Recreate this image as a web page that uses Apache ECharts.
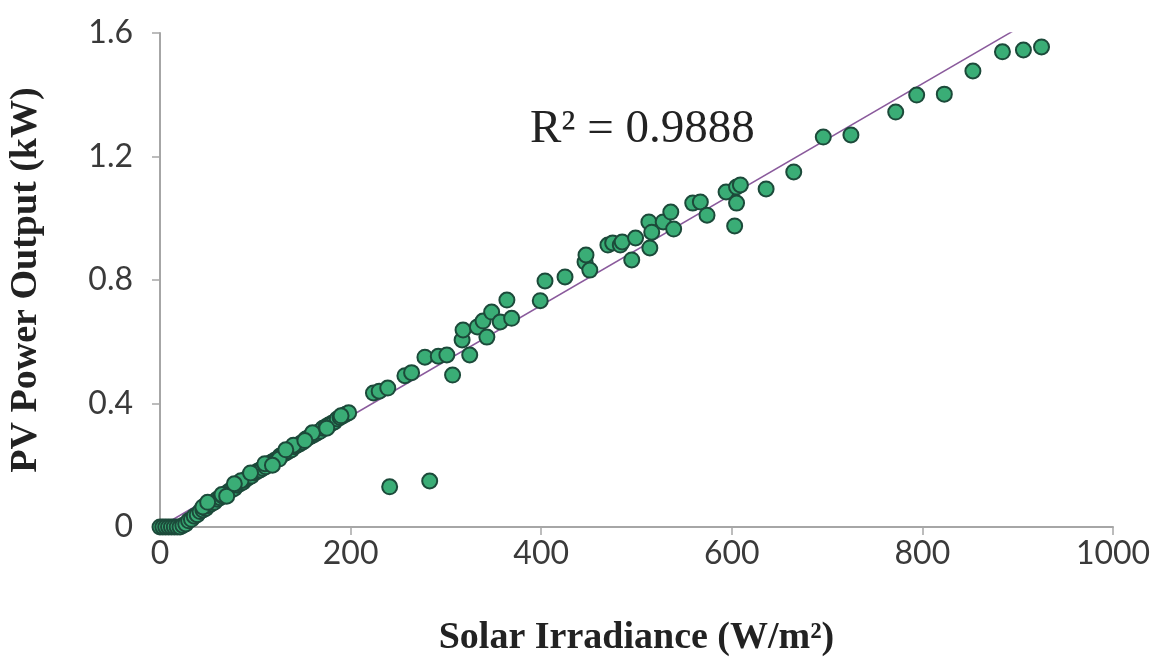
<!DOCTYPE html>
<html>
<head>
<meta charset="utf-8">
<script src="https://cdn.jsdelivr.net/npm/echarts@6/dist/echarts.min.js"></script>
<style>
  html, body { margin: 0; padding: 0; background: #ffffff; }
  #chart { width: 1166px; height: 657px; }
</style>
</head>
<body>
<div id="chart"></div>
<script>
// Solar irradiance (W/m²) values of each observation
const irradiance = [
  0, 3, 6, 9, 12, 15, 18, 21, 24, 27, 30, 33, 36, 39, 42, 45, 48, 51, 54, 57,
  60, 63, 66, 69, 72, 75, 78, 81, 84, 87, 90, 93, 96, 99, 102, 105, 108, 111, 114, 117,
  120, 123, 126, 129, 132, 135, 138, 141, 144, 147, 150, 153, 156, 159, 162, 165, 168, 171, 174, 177,
  180, 183, 186, 189, 192, 195, 198,
  45, 50, 65, 70, 85, 95, 110, 125, 140, 160, 175, 190, 132, 152, 118, 78,
  224, 230, 239, 241, 257, 264, 278, 283, 292, 301, 307, 317, 318, 325, 333,
  339, 343, 348, 357, 364, 369, 399, 404, 425, 446, 447, 451, 470, 475, 483,
  485, 495, 499, 513, 514, 516, 528, 536, 539, 559, 567, 574, 594, 603, 605,
  605, 609, 636, 665, 696, 725, 772, 794, 823, 853, 884, 906, 925
];
// PV power output (kW) of each observation
const pvOutput = [
  0.00, 0.00, 0.00, 0.00, 0.00, 0.00, 0.00, 0.00, 0.005, 0.01, 0.02, 0.025, 0.035, 0.04, 0.05, 0.055, 0.06, 0.07, 0.075, 0.08,
  0.09, 0.095, 0.10, 0.105, 0.115, 0.12, 0.125, 0.135, 0.14, 0.145, 0.155, 0.16, 0.165, 0.175, 0.18, 0.185, 0.19, 0.195, 0.205, 0.21,
  0.215, 0.22, 0.23, 0.235, 0.24, 0.245, 0.25, 0.26, 0.265, 0.27, 0.275, 0.285, 0.29, 0.295, 0.30, 0.305, 0.31, 0.32, 0.325, 0.33,
  0.335, 0.34, 0.35, 0.355, 0.36, 0.365, 0.37,
  0.065, 0.08, 0.105, 0.10, 0.15, 0.175, 0.205, 0.22, 0.265, 0.305, 0.32, 0.36, 0.25, 0.28, 0.20, 0.14,
  0.434, 0.44, 0.45, 0.13, 0.49, 0.50, 0.55, 0.149, 0.553, 0.557, 0.492, 0.606, 0.638, 0.557, 0.648,
  0.667, 0.615, 0.696, 0.664, 0.735, 0.676, 0.733, 0.797, 0.81, 0.858, 0.881, 0.832, 0.913, 0.92, 0.913,
  0.923, 0.865, 0.936, 0.988, 0.904, 0.955, 0.988, 1.02, 0.965, 1.049, 1.053, 1.01, 1.085, 0.975, 1.049,
  1.101, 1.108, 1.095, 1.15, 1.263, 1.27, 1.344, 1.399, 1.402, 1.477, 1.539, 1.545, 1.555
];
// Linear trendline end points
const trendX = [0, 925];
const trendY = [0.0, 1.66];
// Axis ticks
const xTicks = { min: 0, max: 1000, interval: 200 };
const yTicks = { min: 0, max: 1.6, interval: 0.4 };
const r2Label = 'R² = 0.9888';
const xTitle = 'Solar Irradiance (W/m²)';
const yTitle = 'PV Power Output (kW)';

const chart = echarts.init(document.getElementById('chart'), null, { renderer: 'canvas' });

const points = irradiance.map((x, i) => [x, pvOutput[i]]);
const trend = trendX.map((x, i) => [x, trendY[i]]);

const axisText = { color: '#3a3a3a', fontFamily: 'Lato', fontSize: 32 };

chart.setOption({
  backgroundColor: '#ffffff',
  animation: false,
  grid: { left: 160, right: 53, top: 33, bottom: 130, containLabel: false, outerBoundsMode: 'none' },
  xAxis: {
    type: 'value',
    min: xTicks.min, max: xTicks.max, interval: xTicks.interval,
    name: xTitle,
    nameLocation: 'middle',
    nameGap: 92,
    nameTextStyle: { fontFamily: 'Liberation Serif', fontWeight: 'bold', fontSize: 38, color: '#222222' },
    axisLine: { show: true, lineStyle: { color: '#a6a6a6', width: 2 } },
    axisTick: { show: true, length: 8, lineStyle: { color: '#a6a6a6', width: 1.5 } },
    axisLabel: Object.assign({ margin: 11, formatter: v => String(v) }, axisText),
    splitLine: { show: false }
  },
  yAxis: {
    type: 'value',
    min: yTicks.min, max: yTicks.max, interval: yTicks.interval,
    name: yTitle,
    nameLocation: 'middle',
    nameGap: 115,
    nameRotate: 90,
    nameTextStyle: { fontFamily: 'Liberation Serif', fontWeight: 'bold', fontSize: 38, color: '#222222' },
    axisLine: { show: true, lineStyle: { color: '#a6a6a6', width: 2 } },
    axisTick: { show: true, length: 8, lineStyle: { color: '#a6a6a6', width: 1.5 } },
    axisLabel: Object.assign({ margin: 27 }, axisText),
    splitLine: { show: false }
  },
  graphic: [{
    type: 'text',
    left: 530,
    top: 106,
    style: {
      text: r2Label,
      fontFamily: 'Liberation Serif',
      fontSize: 47,
      fill: '#222222'
    }
  }],
  series: [
    {
      type: 'line',
      data: trend,
      symbol: 'none',
      z: 1,
      lineStyle: { color: '#8a5a9c', width: 1.5 }
    },
    {
      type: 'scatter',
      data: points,
      symbolSize: 15,
      z: 2,
      itemStyle: { color: '#3aad76', borderColor: '#1c4a3a', borderWidth: 2, opacity: 1 }
    }
  ]
});
</script>
</body>
</html>
